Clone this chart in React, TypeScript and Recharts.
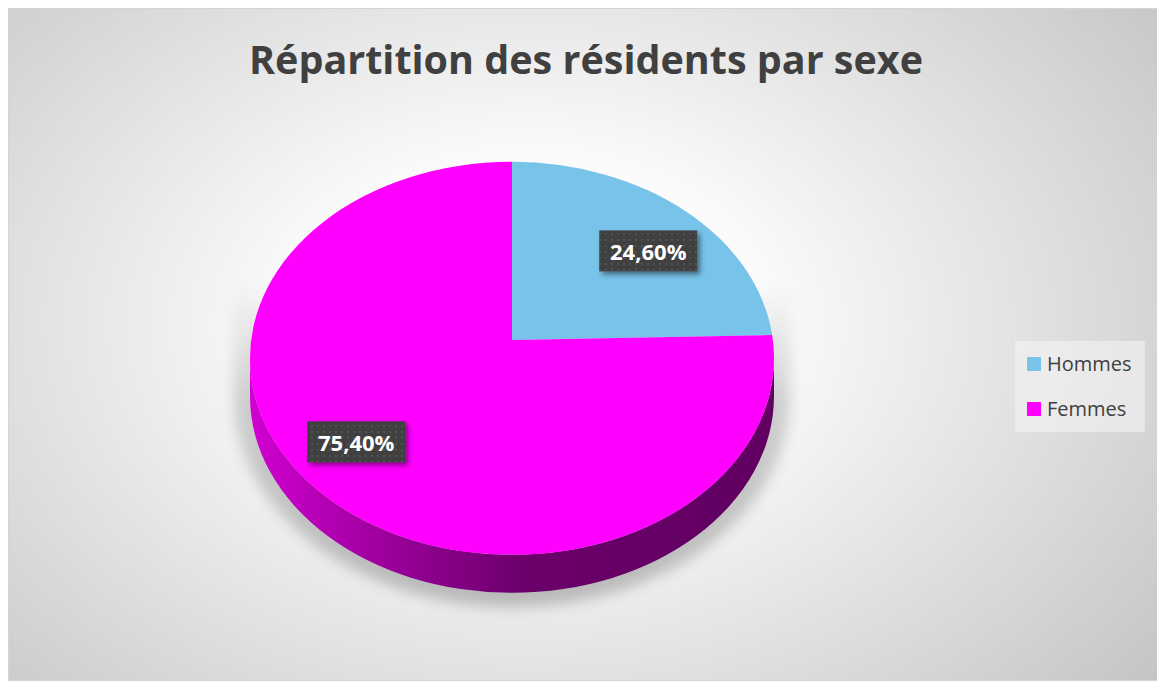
import { Legend, Pie, PieChart } from 'recharts'

const categories = ['Hommes', 'Femmes']
const shares = [24.6, 75.4]
const colors = ['#78c3ea', '#ff00ff']

const data = categories.map((name, i) => ({ name, value: shares[i], fill: colors[i] }))

const W = 1154
const H = 671
const TILT = 0.75 // ry / rx of the top face
const LIFT = 0.07 // apex sits above the ellipse centre (perspective), in rx units
const DEPTH = 38
const FONT = '"Open Sans", sans-serif'

type Geom = { cx: number; cy: number; rx: number; ry: number; off: number }

const geom = (cx: number, cy: number, r: number): Geom => ({
  cx,
  cy,
  rx: r,
  ry: r * TILT,
  off: r * LIFT,
})

// ray from the apex at a pie angle, hitting the rim ellipse
function ray(g: Geom, angle: number) {
  const a = (angle * Math.PI) / 180
  const dx = g.rx * Math.cos(a)
  const dy = -g.ry * Math.sin(a)
  const A = (dx * dx) / (g.rx * g.rx) + (dy * dy) / (g.ry * g.ry)
  const B = (2 * -g.off * dy) / (g.ry * g.ry)
  const C = (g.off * g.off) / (g.ry * g.ry) - 1
  const s = (-B + Math.sqrt(B * B - 4 * A * C)) / (2 * A)
  return { dx, dy, s }
}

function rim(g: Geom, angle: number) {
  const { dx, dy, s } = ray(g, angle)
  return { x: g.cx + dx * s, y: g.cy + dy * s }
}

function param(g: Geom, p: { x: number; y: number }) {
  const t = (Math.atan2((p.y - g.cy - g.off) / g.ry, (p.x - g.cx) / g.rx) * 180) / Math.PI
  return (t + 360) % 360
}

function onEllipse(g: Geom, t: number, drop = 0) {
  const a = (t * Math.PI) / 180
  return { x: g.cx + g.rx * Math.cos(a), y: g.cy + g.off + g.ry * Math.sin(a) + drop }
}

function shade(hex: string, k: number) {
  const n = parseInt(hex.slice(1), 16)
  const c = [(n >> 16) & 255, (n >> 8) & 255, n & 255].map((v) => Math.round(v * k))
  return `rgb(${c.join(',')})`
}

function Slice(props: any) {
  const { cx, cy, outerRadius, startAngle, endAngle, fill, index } = props
  const g = geom(cx, cy, outerRadius)
  const p1 = rim(g, startAngle)
  const p2 = rim(g, endAngle)
  const t1 = param(g, p1)
  const t2 = param(g, p2)
  const span = (t2 - t1 + 360) % 360
  const large = span > 180 ? 1 : 0

  // front wall: visible part of the rim is t in [0, 180]
  let wall = null
  const tEnd = t1 + span
  for (const base of [0, 360]) {
    const a = Math.max(t1, base)
    const b = Math.min(tEnd, base + 180)
    if (b > a) {
      const wa = onEllipse(g, a)
      const wb = onEllipse(g, b)
      const wbd = onEllipse(g, b, DEPTH)
      const wad = onEllipse(g, a, DEPTH)
      wall = (
        <path
          d={`M${wa.x},${wa.y} A${g.rx},${g.ry} 0 0 1 ${wb.x},${wb.y} L${wbd.x},${wbd.y} A${g.rx},${g.ry} 0 0 0 ${wad.x},${wad.y} Z`}
          fill={`url(#wall-${index})`}
        />
      )
    }
  }

  const ecy = cy + g.off
  return (
    <g>
      <defs>
        <linearGradient id={`wall-${index}`} gradientUnits="userSpaceOnUse" x1={cx - g.rx} y1={0} x2={cx + g.rx} y2={0}>
          <stop offset="0%" stopColor={shade(fill, 0.82)} />
          <stop offset="30%" stopColor={shade(fill, 0.58)} />
          <stop offset="52%" stopColor={shade(fill, 0.42)} />
          <stop offset="100%" stopColor={shade(fill, 0.38)} />
        </linearGradient>
        {index === 0 && (
          <>
            <filter id="pieShadow" x="-20%" y="-20%" width="140%" height="140%">
              <feGaussianBlur stdDeviation="7" />
            </filter>
            <linearGradient id="shadowFade" x1="0" y1="0" x2="0" y2="1">
              <stop offset="0%" stopColor="#000" stopOpacity={0} />
              <stop offset="35%" stopColor="#000" stopOpacity={0.16} />
              <stop offset="100%" stopColor="#000" stopOpacity={0.22} />
            </linearGradient>
            <filter id="boxShadow" x="-20%" y="-30%" width="150%" height="170%">
              <feDropShadow dx="3" dy="3" stdDeviation="2.5" floodColor="#000" floodOpacity="0.45" />
            </filter>
            <pattern id="dots" width="6" height="6" patternUnits="userSpaceOnUse">
              <circle cx="3" cy="3" r="0.9" fill="#5a5a5a" />
            </pattern>
          </>
        )}
      </defs>
      {index === 0 && (
        <path
          d={`M${cx - g.rx - 16},${cy - 55} L${cx + g.rx + 16},${cy - 55} L${cx + g.rx + 16},${ecy + DEPTH} A${g.rx + 16},${g.ry + 14} 0 0 1 ${cx - g.rx - 16},${ecy + DEPTH} Z`}
          fill="url(#shadowFade)"
          filter="url(#pieShadow)"
        />
      )}
      {wall}
      <path
        d={`M${cx},${cy} L${p1.x},${p1.y} A${g.rx},${g.ry} 0 ${large} 1 ${p2.x},${p2.y} Z`}
        fill={fill}
      />
    </g>
  )
}

function renderLabel(props: any) {
  const { cx, cy, midAngle, outerRadius, value } = props
  const g = geom(cx, cy, outerRadius)
  const { dx, dy, s } = ray(g, midAngle)
  const x = cx + dx * s * 0.8
  const y = cy + dy * s * 0.68
  const w = 98
  const h = 41
  return (
    <g>
      <rect x={x - w / 2} y={y - h / 2} width={w} height={h} fill="#404040" filter="url(#boxShadow)" />
      <rect x={x - w / 2} y={y - h / 2} width={w} height={h} fill="url(#dots)" />
      <text
        x={x}
        y={y}
        textAnchor="middle"
        dominantBaseline="central"
        fill="#ffffff"
        fontFamily={FONT}
        fontWeight={700}
        fontSize={22}
      >
        {Number(value).toFixed(2).replace('.', ',')}%
      </text>
    </g>
  )
}

function renderLegend(props: any) {
  const items = [...(props.payload ?? [])].sort(
    (a: any, b: any) => categories.indexOf(a.value) - categories.indexOf(b.value),
  )
  return (
    <div
      style={{
        width: 130,
        height: 91,
        background: 'rgba(245,245,245,0.55)',
        fontFamily: FONT,
        fontSize: 20,
        color: '#404040',
        boxSizing: 'border-box',
        paddingLeft: 12,
      }}
    >
      {items.map((entry: any) => (
        <div key={entry.value} style={{ display: 'flex', alignItems: 'center', height: 45 }}>
          <span style={{ width: 14, height: 14, background: entry.color, marginRight: 6 }} />
          <span>{entry.value}</span>
        </div>
      ))}
    </div>
  )
}

export default function App() {
  return (
    <div
      style={{
        position: 'relative',
        width: W,
        height: H,
        border: '1px solid #d4d4d4',
        background:
          'radial-gradient(ellipse 72% 88% at 45% 47%, #ffffff 0%, #fbfbfb 28%, #c2c2c2 100%)',
      }}
    >
      <div
        style={{
          position: 'absolute',
          top: 30,
          left: 0,
          width: W,
          textAlign: 'center',
          fontFamily: FONT,
          fontWeight: 700,
          fontSize: 39.5,
          lineHeight: '40px',
          color: '#404040',
        }}
      >
        Répartition des résidents par sexe
      </div>
      <PieChart width={W} height={H} margin={{ top: 0, right: 0, bottom: 0, left: 0 }}>
        <Pie
          data={data}
          dataKey="value"
          nameKey="name"
          cx={503}
          cy={331}
          outerRadius={262}
          startAngle={90}
          endAngle={-270}
          stroke="none"
          shape={Slice}
          label={renderLabel}
          labelLine={false}
          isAnimationActive={false}
        />
        <Legend
          layout="vertical"
          align="right"
          verticalAlign="middle"
          content={renderLegend}
          wrapperStyle={{ left: 1006, top: 332, right: 'auto', bottom: 'auto', width: 130 }}
        />
      </PieChart>
    </div>
  )
}
